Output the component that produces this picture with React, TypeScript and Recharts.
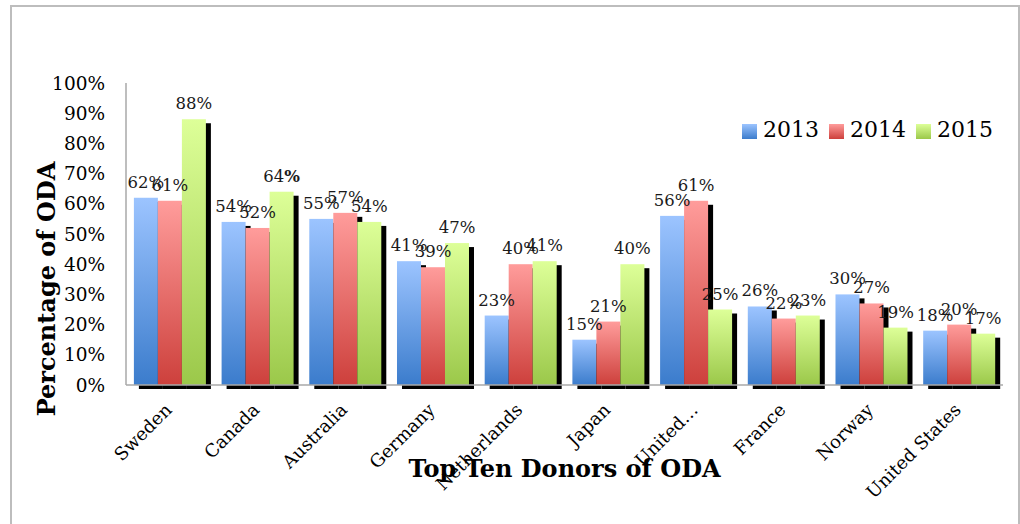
import React from 'react';
import { BarChart, Bar, XAxis, YAxis, Legend, LabelList, Label } from 'recharts';

const categories = ['Sweden', 'Canada', 'Australia', 'Germany', 'Netherlands', 'Japan', 'United…', 'France', 'Norway', 'United States'];
const values2013 = [62, 54, 55, 41, 23, 15, 56, 26, 30, 18];
const values2014 = [61, 52, 57, 39, 40, 21, 61, 22, 27, 20];
const values2015 = [88, 64, 54, 47, 41, 40, 25, 23, 19, 17];
const seriesNames = ['2013', '2014', '2015'];
const yTicks = [0, 10, 20, 30, 40, 50, 60, 70, 80, 90, 100];

const data = categories.map((name, i) => ({
  name,
  y2013: values2013[i],
  y2014: values2014[i],
  y2015: values2015[i],
}));

const gradients = [
  { id: 'g2013', top: '#9CC4FF', bottom: '#3B7CCC' },
  { id: 'g2014', top: '#FF9C9B', bottom: '#CD403C' },
  { id: 'g2015', top: '#DDFF98', bottom: '#9BC84A' },
];

const NUM_FONT = '"DejaVu Serif", serif';

const ShadowBar = (props: any) => {
  const { x, y, width, height, fill } = props;
  if (!height || height <= 0) return null;
  return (
    <g>
      <rect x={x + 5} y={y + 4} width={width} height={height} fill="#000" />
      <rect x={x} y={y} width={width} height={height} fill={fill} />
    </g>
  );
};

const makeLabel = (series: string) => (props: any) => {
  const { x, y, width, value } = props;
  const boldPct = series === '2015' && value === 64;
  return (
    <text x={x + width / 2} y={y - 10} textAnchor="middle" fontFamily={NUM_FONT} fontSize={16.5} fill="#1a1a1a">
      {value}
      <tspan fontWeight={boldPct ? 'bold' : 'normal'}>%</tspan>
    </text>
  );
};

const XTick = (props: any) => {
  const { x, y, payload } = props;
  const ax = x + 3;
  const ay = y + 26;
  return (
    <text
      x={ax}
      y={ay}
      textAnchor="end"
      transform={`rotate(-45, ${ax}, ${ay})`}
      fontFamily={NUM_FONT}
      fontSize={18}
      fill="#000"
    >
      {payload.value}
    </text>
  );
};

const YTitle = () => (
  <text
    x={55}
    y={289}
    textAnchor="middle"
    transform="rotate(-90, 55, 289)"
    fontFamily={NUM_FONT}
    fontWeight="bold"
    fontSize={24}
    fill="#000"
  >
    Percentage of ODA
  </text>
);

const LegendContent = () => (
  <div style={{ display: 'flex', alignItems: 'center', fontFamily: NUM_FONT, fontSize: 22, color: '#000' }}>
    {seriesNames.map((s, i) => (
      <div key={s} style={{ display: 'flex', alignItems: 'center', marginRight: 10 }}>
        <div
          style={{
            width: 15,
            height: 15,
            marginRight: 6,
            marginTop: 3,
            background: `linear-gradient(to bottom, ${gradients[i].top}, ${gradients[i].bottom})`,
          }}
        />
        <span style={{ lineHeight: '26px' }}>{s}</span>
      </div>
    ))}
  </div>
);

export default function App() {
  return (
    <div style={{ position: 'absolute', left: 0, top: 0, width: 1020, height: 524, background: '#fff', overflow: 'hidden' }}>
      <div
        style={{
          position: 'absolute',
          left: 10,
          top: 5,
          width: 1006,
          height: 540,
          borderLeft: '2px solid #bdbdbd',
          borderTop: '2px solid #bdbdbd',
          borderRight: '2px solid #bdbdbd',
        }}
      />
      <div style={{ position: 'absolute', left: 0, top: 0 }}>
        <BarChart
          width={1020}
          height={524}
          data={data}
          margin={{ top: 83, right: 17, bottom: 0, left: 0 }}
          barGap={0}
          barCategoryGap="9%"
        >
          <defs>
            {gradients.map((g) => (
              <linearGradient key={g.id} id={g.id} x1="0" y1="0" x2="0" y2="1">
                <stop offset="0%" stopColor={g.top} />
                <stop offset="100%" stopColor={g.bottom} />
              </linearGradient>
            ))}
          </defs>
          <XAxis
            dataKey="name"
            height={139}
            tickLine={false}
            axisLine={{ stroke: '#a9a9a9', strokeWidth: 1.5 }}
            tick={<XTick />}
            tickSize={0}
            tickMargin={0}
            interval={0}
          >
            <Label
              value="Top Ten Donors of ODA"
              position="insideBottom"
              offset={47}
              fontFamily={NUM_FONT}
              fontWeight="bold"
              fontSize={24}
              fill="#000"
            />
          </XAxis>
          <YAxis
            width={126}
            domain={[0, 100]}
            ticks={yTicks}
            tickFormatter={(v: number) => `${v}%`}
            tickLine={false}
            tickSize={0}
            tickMargin={21}
            axisLine={{ stroke: '#a9a9a9', strokeWidth: 1.5 }}
            tick={{ fontFamily: NUM_FONT, fontSize: 18.5, fill: '#000' }}
            interval={0}
          >
            <Label content={<YTitle />} />
          </YAxis>
          <Legend
            layout="vertical"
            align="center"
            verticalAlign="middle"
            content={<LegendContent />}
            wrapperStyle={{ left: 742, top: 117, width: 280, height: 28 }}
          />
          <Bar dataKey="y2013" name="2013" fill="url(#g2013)" shape={<ShadowBar />} isAnimationActive={false}>
            <LabelList dataKey="y2013" content={makeLabel('2013')} />
          </Bar>
          <Bar dataKey="y2014" name="2014" fill="url(#g2014)" shape={<ShadowBar />} isAnimationActive={false}>
            <LabelList dataKey="y2014" content={makeLabel('2014')} />
          </Bar>
          <Bar dataKey="y2015" name="2015" fill="url(#g2015)" shape={<ShadowBar />} isAnimationActive={false}>
            <LabelList dataKey="y2015" content={makeLabel('2015')} />
          </Bar>
        </BarChart>
      </div>
    </div>
  );
}
